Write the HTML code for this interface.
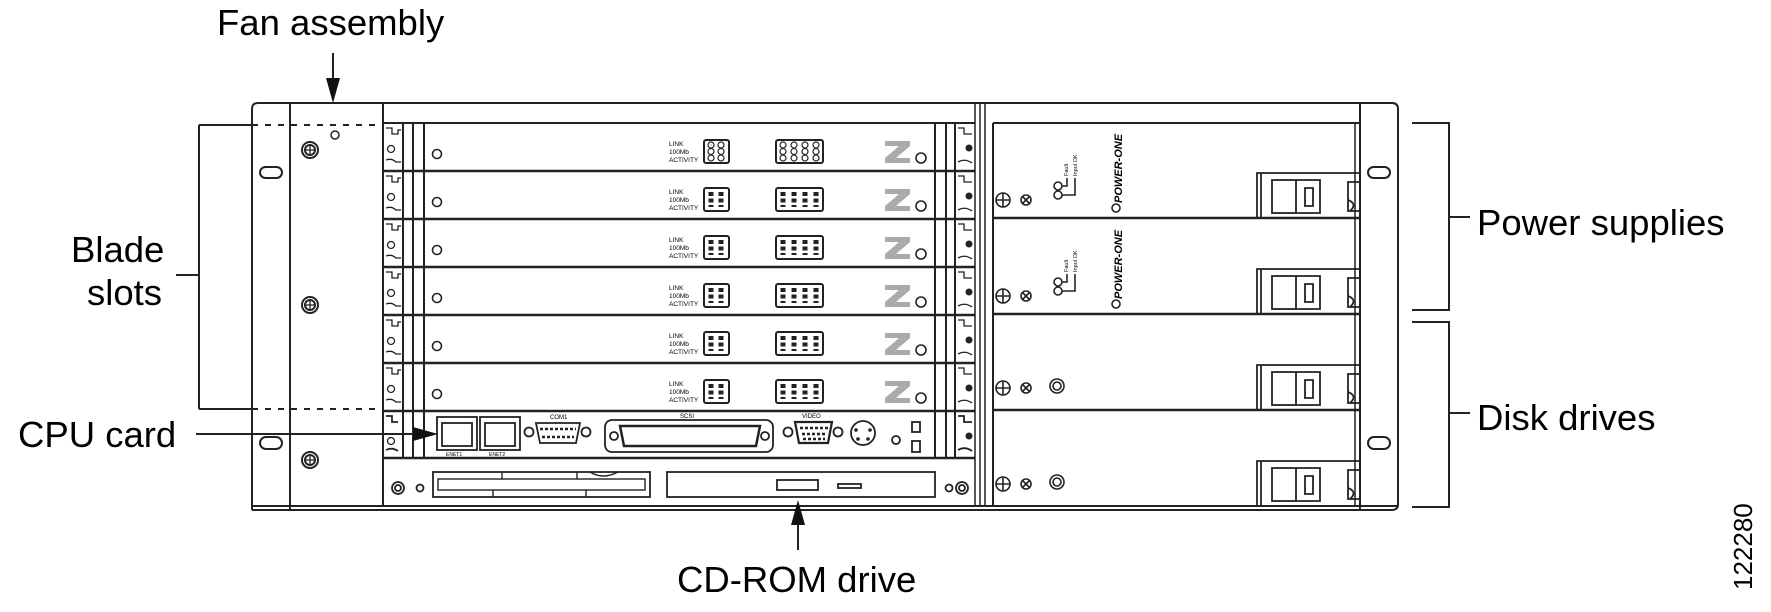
<!DOCTYPE html>
<html><head><meta charset="utf-8"><style>
html,body{margin:0;padding:0;background:#fff;}
svg{display:block;}
text{font-family:"Liberation Sans",Arial,sans-serif;fill:#000;}
</style></head><body>
<svg width="1771" height="612" viewBox="0 0 1771 612" xmlns="http://www.w3.org/2000/svg">
<g fill="none" stroke="#222" stroke-width="2">
<!-- chassis outline -->
<path d="M252,510 L252,109 Q252,103 258,103 L1392,103 Q1398,103 1398,109 L1398,504 Q1398,510 1392,510 L252,510"/>
<line x1="290" y1="103" x2="290" y2="510"/>
<line x1="383" y1="103" x2="383" y2="506"/>
<line x1="1360" y1="103" x2="1360" y2="510"/>
<line x1="252" y1="506" x2="1398" y2="506"/>
<line x1="383" y1="123" x2="975" y2="123"/>
<line x1="993" y1="123" x2="1360" y2="123"/>
<!-- separators -->
<line x1="975" y1="103" x2="975" y2="506" stroke-width="1.5"/>
<line x1="980" y1="103" x2="980" y2="506" stroke-width="1.5"/>
<line x1="985" y1="103" x2="985" y2="506" stroke-width="1.5"/>
<line x1="993" y1="123" x2="993" y2="506" stroke-width="2"/>
<!-- ear slots -->
<rect x="260" y="167" width="22" height="11" rx="5.5"/>
<rect x="260" y="437" width="22" height="12" rx="6"/>
<rect x="1368" y="167" width="22" height="11" rx="5.5"/>
<rect x="1368" y="437" width="22" height="12" rx="6"/>
<!-- fan panel screws -->
<circle cx="310" cy="150" r="8"/><circle cx="310" cy="150" r="5"/>
<circle cx="310" cy="305" r="8"/><circle cx="310" cy="305" r="5"/>
<circle cx="310" cy="460" r="8"/><circle cx="310" cy="460" r="5"/>
<circle cx="335" cy="135" r="4" stroke-width="1.5"/>
</g>
<g stroke="#222" stroke-width="1.3">
<line x1="306" y1="150" x2="314" y2="150"/><line x1="310" y1="146" x2="310" y2="154"/>
<line x1="306" y1="305" x2="314" y2="305"/><line x1="310" y1="301" x2="310" y2="309"/>
<line x1="306" y1="460" x2="314" y2="460"/><line x1="310" y1="456" x2="310" y2="464"/>
</g>

<!-- blade slot lines -->
<g fill="none" stroke="#222" stroke-width="2">
<line x1="403" y1="123" x2="403" y2="458"/>
<line x1="413" y1="123" x2="413" y2="458"/>
<line x1="424" y1="123" x2="424" y2="458"/>
<line x1="935" y1="123" x2="935" y2="458"/>
<line x1="946" y1="123" x2="946" y2="458"/>
<line x1="955" y1="123" x2="955" y2="458"/>
<line x1="383" y1="171" x2="975" y2="171" stroke-width="2.5"/>
<line x1="383" y1="219" x2="975" y2="219" stroke-width="2.5"/>
<line x1="383" y1="267" x2="975" y2="267" stroke-width="2.5"/>
<line x1="383" y1="315" x2="975" y2="315" stroke-width="2.5"/>
<line x1="383" y1="363" x2="975" y2="363" stroke-width="2.5"/>
<line x1="383" y1="411" x2="975" y2="411" stroke-width="2.5"/>
<line x1="383" y1="458" x2="975" y2="458" stroke-width="2.5"/>
</g>

<!-- blade template repeated -->
<g id="b0" transform="translate(0,0)">
<g fill="none" stroke="#222" stroke-width="1.3">
<path d="M386,128 L392,128 L392,134 L398,134 L398,130 L401,130 M386,160 Q392,158 396,162 L401,162"/>
<circle cx="391" cy="149" r="3.5"/>
<circle cx="437" cy="154" r="4.5" stroke-width="1.6"/>
<rect x="704" y="140" width="25" height="23" rx="2" stroke-width="2"/>
<rect x="776" y="140" width="47" height="23" rx="2" stroke-width="2"/>
<circle cx="921" cy="158" r="5" stroke-width="1.6"/>
<path d="M958,128 L964,128 L964,134 L972,134 M958,162 Q965,158 972,163"/>
</g>
<g fill="none" stroke="#222" stroke-width="1.2">
<circle cx="711" cy="145" r="3"/><circle cx="721" cy="145" r="3"/><circle cx="711" cy="151.5" r="3"/><circle cx="721" cy="151.5" r="3"/><circle cx="711" cy="158" r="3"/><circle cx="721" cy="158" r="3"/>
<circle cx="783" cy="145" r="3"/><circle cx="794" cy="145" r="3"/><circle cx="805" cy="145" r="3"/><circle cx="816" cy="145" r="3"/>
<circle cx="783" cy="151.5" r="3"/><circle cx="794" cy="151.5" r="3"/><circle cx="805" cy="151.5" r="3"/><circle cx="816" cy="151.5" r="3"/>
<circle cx="783" cy="158" r="3"/><circle cx="794" cy="158" r="3"/><circle cx="805" cy="158" r="3"/><circle cx="816" cy="158" r="3"/>
</g>
<circle cx="969" cy="148" r="3.5" fill="#222"/>
<path d="M885,141 L910,141 L910,146 L896,158 L910,158 L910,163 L885,163 L885,158 L899,146 L885,146 Z" fill="#aaa"/>
<text x="669" y="146" font-size="6.5">LINK</text>
<text x="669" y="154" font-size="6.5">100Mb</text>
<text x="669" y="162" font-size="6.5">ACTIVITY</text>
</g>
<g transform="translate(0,48)">
<g fill="none" stroke="#222" stroke-width="1.3">
<path d="M386,128 L392,128 L392,134 L398,134 L398,130 L401,130 M386,160 Q392,158 396,162 L401,162"/>
<circle cx="391" cy="149" r="3.5"/><circle cx="437" cy="154" r="4.5" stroke-width="1.6"/>
<rect x="704" y="140" width="25" height="23" rx="2" stroke-width="2"/><rect x="776" y="140" width="47" height="23" rx="2" stroke-width="2"/>
<circle cx="921" cy="158" r="5" stroke-width="1.6"/><path d="M958,128 L964,128 L964,134 L972,134 M958,162 Q965,158 972,163"/>
<path d="M711,144v15M721,144v15M783,144v15M794,144v15M805,144v15M816,144v15" stroke-width="5" stroke-dasharray="4,2.5"/>
</g>
<circle cx="969" cy="148" r="3.5" fill="#222"/>
<path d="M885,141 L910,141 L910,146 L896,158 L910,158 L910,163 L885,163 L885,158 L899,146 L885,146 Z" fill="#aaa"/>
<text x="669" y="146" font-size="6.5">LINK</text><text x="669" y="154" font-size="6.5">100Mb</text><text x="669" y="162" font-size="6.5">ACTIVITY</text>
</g>
<g transform="translate(0,96)">
<g fill="none" stroke="#222" stroke-width="1.3">
<path d="M386,128 L392,128 L392,134 L398,134 L398,130 L401,130 M386,160 Q392,158 396,162 L401,162"/>
<circle cx="391" cy="149" r="3.5"/><circle cx="437" cy="154" r="4.5" stroke-width="1.6"/>
<rect x="704" y="140" width="25" height="23" rx="2" stroke-width="2"/><rect x="776" y="140" width="47" height="23" rx="2" stroke-width="2"/>
<circle cx="921" cy="158" r="5" stroke-width="1.6"/><path d="M958,128 L964,128 L964,134 L972,134 M958,162 Q965,158 972,163"/>
<path d="M711,144v15M721,144v15M783,144v15M794,144v15M805,144v15M816,144v15" stroke-width="5" stroke-dasharray="4,2.5"/>
</g>
<circle cx="969" cy="148" r="3.5" fill="#222"/>
<path d="M885,141 L910,141 L910,146 L896,158 L910,158 L910,163 L885,163 L885,158 L899,146 L885,146 Z" fill="#aaa"/>
<text x="669" y="146" font-size="6.5">LINK</text><text x="669" y="154" font-size="6.5">100Mb</text><text x="669" y="162" font-size="6.5">ACTIVITY</text>
</g>
<g transform="translate(0,144)">
<g fill="none" stroke="#222" stroke-width="1.3">
<path d="M386,128 L392,128 L392,134 L398,134 L398,130 L401,130 M386,160 Q392,158 396,162 L401,162"/>
<circle cx="391" cy="149" r="3.5"/><circle cx="437" cy="154" r="4.5" stroke-width="1.6"/>
<rect x="704" y="140" width="25" height="23" rx="2" stroke-width="2"/><rect x="776" y="140" width="47" height="23" rx="2" stroke-width="2"/>
<circle cx="921" cy="158" r="5" stroke-width="1.6"/><path d="M958,128 L964,128 L964,134 L972,134 M958,162 Q965,158 972,163"/>
<path d="M711,144v15M721,144v15M783,144v15M794,144v15M805,144v15M816,144v15" stroke-width="5" stroke-dasharray="4,2.5"/>
</g>
<circle cx="969" cy="148" r="3.5" fill="#222"/>
<path d="M885,141 L910,141 L910,146 L896,158 L910,158 L910,163 L885,163 L885,158 L899,146 L885,146 Z" fill="#aaa"/>
<text x="669" y="146" font-size="6.5">LINK</text><text x="669" y="154" font-size="6.5">100Mb</text><text x="669" y="162" font-size="6.5">ACTIVITY</text>
</g>
<g transform="translate(0,192)">
<g fill="none" stroke="#222" stroke-width="1.3">
<path d="M386,128 L392,128 L392,134 L398,134 L398,130 L401,130 M386,160 Q392,158 396,162 L401,162"/>
<circle cx="391" cy="149" r="3.5"/><circle cx="437" cy="154" r="4.5" stroke-width="1.6"/>
<rect x="704" y="140" width="25" height="23" rx="2" stroke-width="2"/><rect x="776" y="140" width="47" height="23" rx="2" stroke-width="2"/>
<circle cx="921" cy="158" r="5" stroke-width="1.6"/><path d="M958,128 L964,128 L964,134 L972,134 M958,162 Q965,158 972,163"/>
<path d="M711,144v15M721,144v15M783,144v15M794,144v15M805,144v15M816,144v15" stroke-width="5" stroke-dasharray="4,2.5"/>
</g>
<circle cx="969" cy="148" r="3.5" fill="#222"/>
<path d="M885,141 L910,141 L910,146 L896,158 L910,158 L910,163 L885,163 L885,158 L899,146 L885,146 Z" fill="#aaa"/>
<text x="669" y="146" font-size="6.5">LINK</text><text x="669" y="154" font-size="6.5">100Mb</text><text x="669" y="162" font-size="6.5">ACTIVITY</text>
</g>
<g transform="translate(0,240)">
<g fill="none" stroke="#222" stroke-width="1.3">
<path d="M386,128 L392,128 L392,134 L398,134 L398,130 L401,130 M386,160 Q392,158 396,162 L401,162"/>
<circle cx="391" cy="149" r="3.5"/><circle cx="437" cy="154" r="4.5" stroke-width="1.6"/>
<rect x="704" y="140" width="25" height="23" rx="2" stroke-width="2"/><rect x="776" y="140" width="47" height="23" rx="2" stroke-width="2"/>
<circle cx="921" cy="158" r="5" stroke-width="1.6"/><path d="M958,128 L964,128 L964,134 L972,134 M958,162 Q965,158 972,163"/>
<path d="M711,144v15M721,144v15M783,144v15M794,144v15M805,144v15M816,144v15" stroke-width="5" stroke-dasharray="4,2.5"/>
</g>
<circle cx="969" cy="148" r="3.5" fill="#222"/>
<path d="M885,141 L910,141 L910,146 L896,158 L910,158 L910,163 L885,163 L885,158 L899,146 L885,146 Z" fill="#aaa"/>
<text x="669" y="146" font-size="6.5">LINK</text><text x="669" y="154" font-size="6.5">100Mb</text><text x="669" y="162" font-size="6.5">ACTIVITY</text>
</g>
<g fill="none" stroke="#222" stroke-width="1.2">
<circle cx="711" cy="145" r="0.1"/>
</g>

<!-- CPU card -->
<g fill="none" stroke="#222" stroke-width="1.8">
<path d="M386,416 L392,416 L392,422 L398,422 M386,450 Q392,447 398,451"/>
<circle cx="391" cy="441" r="3.5" stroke-width="1.3"/>
<rect x="437" y="417" width="40" height="33"/><rect x="442" y="423" width="30" height="23"/>
<rect x="480" y="417" width="40" height="33"/><rect x="485" y="423" width="30" height="23"/>
<circle cx="529" cy="432" r="4.5"/><circle cx="586" cy="432" r="4.5"/>
<path d="M536,423 L580,423 L576,443 L540,443 Z"/>
<rect x="605" y="420" width="168" height="32" rx="7"/>
<path d="M620,426 L760,426 L756,446 L624,446 Z" stroke-width="2.5"/>
<circle cx="614" cy="436" r="4"/><circle cx="765" cy="436" r="4"/>
<circle cx="788" cy="432" r="4.5"/><circle cx="838" cy="432" r="4.5"/>
<path d="M795,422 L832,422 L828,443 L799,443 Z" stroke-width="2.2"/>
<circle cx="863" cy="433" r="12"/>
<circle cx="896" cy="440" r="4"/>
<rect x="912" y="422" width="8" height="10"/><rect x="912" y="441" width="8" height="11"/>
<path d="M958,416 L964,416 L964,422 L972,422 M958,450 Q965,446 972,451"/>
</g>
<circle cx="969" cy="436" r="3.5" fill="#222"/>
<circle cx="856" cy="430" r="1.8" fill="#222"/><circle cx="870" cy="430" r="1.8" fill="#222"/><circle cx="858" cy="439" r="1.8" fill="#222"/><circle cx="868" cy="439" r="1.8" fill="#222"/>
<path d="M540,429h36M542,437h32M800,428h28M802,434h24M803,439h22" stroke="#222" stroke-width="2.5" stroke-dasharray="3,2"/>
<text x="550" y="419" font-size="6">COM1</text>
<text x="680" y="418" font-size="6">SCSI</text>
<text x="802" y="418" font-size="6">VIDEO</text>
<text x="446" y="456" font-size="5">ENET1</text><text x="489" y="456" font-size="5">ENET2</text>

<!-- CD row -->
<g fill="none" stroke="#222" stroke-width="1.8">
<circle cx="398" cy="488" r="6"/><circle cx="398" cy="488" r="3"/>
<circle cx="420" cy="488" r="3.5"/>
<rect x="433" y="472" width="217" height="25"/>
<rect x="438" y="479" width="207" height="11" stroke-width="1.4"/>
<line x1="502" y1="472" x2="502" y2="479" stroke-width="1.4"/>
<line x1="577" y1="472" x2="577" y2="479" stroke-width="1.4"/>
<line x1="493" y1="490" x2="493" y2="497" stroke-width="1.4"/>
<line x1="586" y1="490" x2="586" y2="497" stroke-width="1.4"/>
<path d="M590,472 Q603,480 618,472" stroke-width="1.4"/>
<rect x="667" y="472" width="268" height="25"/>
<rect x="777" y="480" width="41" height="10"/>
<rect x="838" y="484" width="23" height="4"/>
<circle cx="949" cy="488" r="3.5"/>
<circle cx="962" cy="488" r="6"/><circle cx="962" cy="488" r="3"/>
</g>

<!-- right panel rows -->
<g fill="none" stroke="#222" stroke-width="2">
<line x1="993" y1="218" x2="1360" y2="218" stroke-width="2.5"/>
<line x1="993" y1="314" x2="1360" y2="314" stroke-width="2.5"/>
<line x1="993" y1="410" x2="1360" y2="410" stroke-width="2.5"/>
<line x1="1355" y1="123" x2="1355" y2="506" stroke-width="1.5"/>
</g>
<!-- handles -->
<g fill="none" stroke="#222" stroke-width="1.8">
<path d="M1257,218 L1257,173 L1360,173"/><line x1="1261" y1="173" x2="1261" y2="218"/>
<rect x="1272" y="180" width="24" height="33"/><path d="M1296,180 L1320,180 L1320,213 L1296,213 M1305,188 h8 v18 h-8 z"/><path d="M1348,182 L1360,182 L1360,211 L1348,211 Z M1348,200 Q1358,204 1350,211"/>
<g transform="translate(0,96)"><path d="M1257,218 L1257,173 L1360,173"/><line x1="1261" y1="173" x2="1261" y2="218"/>
<rect x="1272" y="180" width="24" height="33"/><path d="M1296,180 L1320,180 L1320,213 L1296,213 M1305,188 h8 v18 h-8 z"/><path d="M1348,182 L1360,182 L1360,211 L1348,211 Z M1348,200 Q1358,204 1350,211"/></g>
<g transform="translate(0,192)"><path d="M1257,218 L1257,173 L1360,173"/><line x1="1261" y1="173" x2="1261" y2="218"/>
<rect x="1272" y="180" width="24" height="33"/><path d="M1296,180 L1320,180 L1320,213 L1296,213 M1305,188 h8 v18 h-8 z"/><path d="M1348,182 L1360,182 L1360,211 L1348,211 Z M1348,200 Q1358,204 1350,211"/></g>
<g transform="translate(0,288)"><path d="M1257,218 L1257,173 L1360,173"/><line x1="1261" y1="173" x2="1261" y2="218"/>
<rect x="1272" y="180" width="24" height="33"/><path d="M1296,180 L1320,180 L1320,213 L1296,213 M1305,188 h8 v18 h-8 z"/><path d="M1348,182 L1360,182 L1360,211 L1348,211 Z M1348,200 Q1358,204 1350,211"/></g>
</g>
<!-- right panel screws/leds -->
<g fill="none" stroke="#222" stroke-width="1.6">
<circle cx="1003" cy="200" r="7"/><path d="M996,200h14M1003,193v14"/>
<circle cx="1026" cy="200" r="5"/><path d="M1023,197l6,6M1029,197l-6,6"/>
<circle cx="1058" cy="186" r="4"/><circle cx="1058" cy="195" r="4"/>
<path d="M1062,186h5v-8M1062,195h13v-17"/>
<circle cx="1116" cy="208" r="4"/>
<g transform="translate(0,96)">
<circle cx="1003" cy="200" r="7"/><path d="M996,200h14M1003,193v14"/>
<circle cx="1026" cy="200" r="5"/><path d="M1023,197l6,6M1029,197l-6,6"/>
<circle cx="1058" cy="186" r="4"/><circle cx="1058" cy="195" r="4"/>
<path d="M1062,186h5v-8M1062,195h13v-17"/>
<circle cx="1116" cy="208" r="4"/></g>
<g transform="translate(0,188)">
<circle cx="1003" cy="200" r="7"/><path d="M996,200h14M1003,193v14"/>
<circle cx="1026" cy="200" r="5"/><path d="M1023,197l6,6M1029,197l-6,6"/>
<circle cx="1057" cy="198" r="7"/><circle cx="1057" cy="198" r="4"/></g>
<g transform="translate(0,284)">
<circle cx="1003" cy="200" r="7"/><path d="M996,200h14M1003,193v14"/>
<circle cx="1026" cy="200" r="5"/><path d="M1023,197l6,6M1029,197l-6,6"/>
<circle cx="1057" cy="198" r="7"/><circle cx="1057" cy="198" r="4"/></g>
</g>
<text transform="translate(1122,203) rotate(-90)" font-size="11" font-style="italic" font-weight="bold">POWER-ONE</text>
<text transform="translate(1122,299) rotate(-90)" font-size="11" font-style="italic" font-weight="bold">POWER-ONE</text>
<text transform="translate(1068,176) rotate(-90)" font-size="5.5">Fault</text>
<text transform="translate(1077,176) rotate(-90)" font-size="5.5">Input OK</text>
<text transform="translate(1068,272) rotate(-90)" font-size="5.5">Fault</text>
<text transform="translate(1077,272) rotate(-90)" font-size="5.5">Input OK</text>

<!-- callouts -->
<g stroke="#222" stroke-width="2" fill="none">
<line x1="199" y1="125" x2="252" y2="125"/>
<line x1="252" y1="125" x2="383" y2="125" stroke-dasharray="6,7"/>
<line x1="199" y1="409" x2="252" y2="409"/>
<line x1="252" y1="409" x2="383" y2="409" stroke-dasharray="6,7"/>
<line x1="199" y1="125" x2="199" y2="409"/>
<line x1="176" y1="275" x2="199" y2="275"/>
<path d="M1412,123 H1449 V310 H1412 M1449,217 H1470"/>
<path d="M1412,322 H1449 V507 H1412 M1449,413 H1470"/>
<line x1="333" y1="53" x2="333" y2="80"/>
<line x1="196" y1="434" x2="415" y2="434"/>
<line x1="798" y1="522" x2="798" y2="550"/>
</g>
<g fill="#111">
<path d="M326,78 L340,78 L333,103 Z"/>
<path d="M413,427 L413,441 L438,434 Z"/>
<path d="M791,525 L805,525 L798,500 Z"/>
</g>
<g font-size="36.5">
<text x="217" y="35">Fan assembly</text>
<text x="71" y="262">Blade</text>
<text x="87" y="305">slots</text>
<text x="18" y="447">CPU card</text>
<text x="677" y="592">CD-ROM drive</text>
<text x="1477" y="235">Power supplies</text>
<text x="1477" y="430">Disk drives</text>
</g>
<text transform="translate(1752,590) rotate(-90)" font-size="26">122280</text>
</svg>
</body></html>
